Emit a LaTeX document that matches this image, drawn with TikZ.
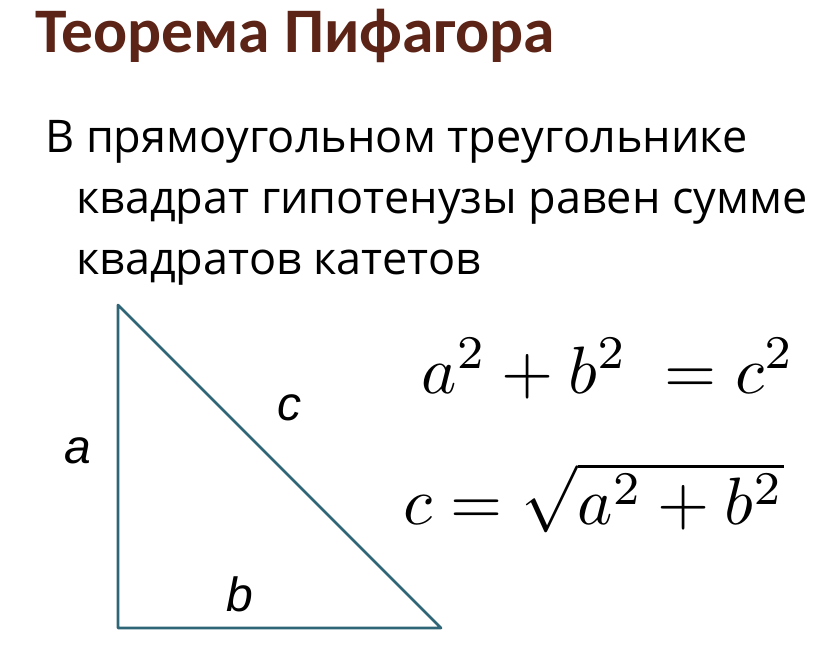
\documentclass[tikz,border=0pt]{standalone}
\usepackage{amsmath, fontspec}
\setmainfont{Open Sans}
\newfontfamily\titlefont{Carlito}
\newfontfamily\labelfont{Liberation Sans}
\definecolor{titlebrown}{RGB}{92,36,22}
\definecolor{legteal}{RGB}{46,102,120}
\tikzset{>=stealth}

\begin{document}
\begin{tikzpicture}[x=1pt, y=-1pt]
     \useasboundingbox (0,0) rectangle (835,648);
     \node[anchor=base west, inner sep=0, text=titlebrown, font=\titlefont\bfseries\fontsize{63.5}{66}\selectfont] (title) at (35,52) {Теорема Пифагора};
     \node[anchor=base west, inner sep=0, font=\fontsize{45}{47}\selectfont] (line1) at (45,152) {В прямоугольном треугольнике};
     \node[anchor=base west, inner sep=0, font=\fontsize{45}{47}\selectfont] (line2) at (76,213) {квадрат гипотенузы равен сумме};
     \node[anchor=base west, inner sep=0, font=\fontsize{45}{47}\selectfont] (line3) at (76,274) {квадратов катетов};
     \coordinate (top) at (118,305);
     \coordinate (right) at (118,628);
     \coordinate (end) at (441,628);
     \draw[legteal, line width=2.7pt, line join=round] (top) -- (right) -- (end) -- cycle;
     \node[font=\labelfont\itshape\fontsize{48}{50}\selectfont] (a) at (78,451) {a};
     \node[font=\labelfont\itshape\fontsize{48}{50}\selectfont] (c) at (289,408) {c};
     \node[font=\labelfont\itshape\fontsize{48}{50}\selectfont] (b) at (240,594) {b};
     \node[anchor=base west, inner sep=0, scale=6.7, transform shape] (law) at (420,393) {$a^2+b^2\;=c^2$};
     \node[anchor=base west, inner sep=0, scale=6.7, transform shape] (root) at (402,524) {$c=\sqrt{a^2+b^2}$};
\end{tikzpicture}
\end{document}
